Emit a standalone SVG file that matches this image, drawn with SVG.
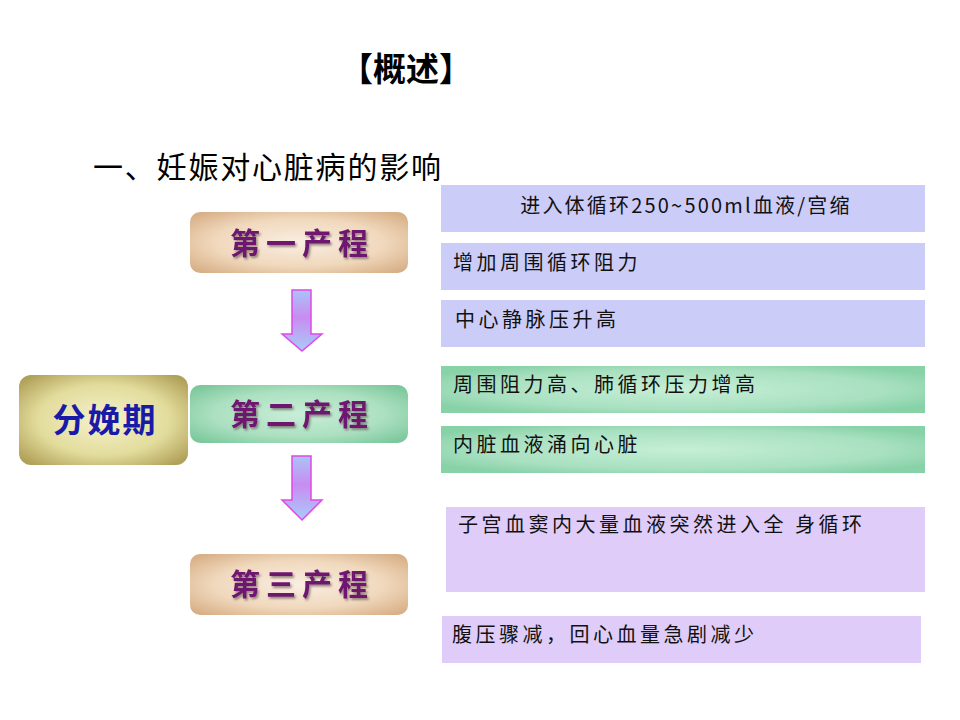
<svg xmlns="http://www.w3.org/2000/svg" width="960" height="720" viewBox="0 0 960 720">
<defs>
<radialGradient id="gTan" cx="50%" cy="50%" r="65%">
<stop offset="0" stop-color="#faeee2"/><stop offset="0.6" stop-color="#f0d8bc"/><stop offset="1" stop-color="#d8b088"/>
</radialGradient>
<radialGradient id="gGreen" cx="50%" cy="50%" r="65%">
<stop offset="0" stop-color="#c8eed8"/><stop offset="0.6" stop-color="#ace0c0"/><stop offset="1" stop-color="#7cc89c"/>
</radialGradient>
<radialGradient id="gOlive" cx="50%" cy="50%" r="65%">
<stop offset="0" stop-color="#f6f2cc"/><stop offset="0.6" stop-color="#e2dc9c"/><stop offset="1" stop-color="#b0a058"/>
</radialGradient>
<radialGradient id="gGreenBar" cx="50%" cy="50%" r="60%">
<stop offset="0" stop-color="#c6efd6"/><stop offset="0.7" stop-color="#a8e0c0"/><stop offset="1" stop-color="#88d2a8"/>
</radialGradient>
<linearGradient id="gArrow" x1="0" y1="0" x2="0" y2="1">
<stop offset="0" stop-color="#a8c4f8"/><stop offset="0.45" stop-color="#c88cf0"/><stop offset="1" stop-color="#a8ccf8"/>
</linearGradient>
<filter id="shadow" x="-10%" y="-10%" width="120%" height="130%">
<feDropShadow dx="1.5" dy="2" stdDeviation="0.8" flood-color="#5a4a4a" flood-opacity="0.6"/>
</filter>
</defs>
<style>
.cjk{font-family:"Noto Sans CJK SC","Noto Sans CJK JP",sans-serif;}
.stage{font-size:30px;font-weight:bold;fill:#6e1470;letter-spacing:6px;text-anchor:middle;}
.bar{font-size:20px;fill:#111;letter-spacing:3.5px;}
.arrow{fill:url(#gArrow);stroke:#e048e8;stroke-width:1.5;}
</style>

<text id="title" class="cjk" x="406" y="81" font-size="33" font-weight="bold" text-anchor="middle" fill="#000">【概述】</text>
<text id="subtitle" class="cjk" x="93" y="178" font-size="30" letter-spacing="1.8" fill="#000">一、妊娠对心脏病的影响</text>

<g id="stage1">
<rect x="190" y="212" width="218" height="61" rx="10" fill="url(#gTan)"/>
<text class="cjk stage" x="302" y="254" filter="url(#shadow)">第一产程</text>
</g>
<g id="delivery">
<rect x="19" y="375" width="169" height="90" rx="12" fill="url(#gOlive)"/>
<text class="cjk" x="105" y="432" font-size="33" font-weight="bold" fill="#1a1aa8" letter-spacing="2" text-anchor="middle">分娩期</text>
</g>
<g id="stage2">
<rect x="190" y="385" width="218" height="58" rx="10" fill="url(#gGreen)"/>
<text class="cjk stage" x="302" y="425" filter="url(#shadow)">第二产程</text>
</g>
<g id="stage3">
<rect x="190" y="554" width="218" height="61" rx="10" fill="url(#gTan)"/>
<text class="cjk stage" x="302" y="595" filter="url(#shadow)">第三产程</text>
</g>

<g id="connectors">
<path class="arrow" d="M292,290 H311 V334 H322 L302,351 L282,334 H292 Z"/>
<path class="arrow" d="M292,456 H311 V500 H322 L302,520 L282,500 H292 Z"/>
</g>

<g id="bar1">
<rect x="441" y="185" width="484" height="47" fill="#ccccf8"/>
<text class="cjk bar" x="686" y="213" text-anchor="middle" style="letter-spacing:2.2px">进入体循环250~500ml血液/宫缩</text>
</g>
<g id="bar2">
<rect x="441" y="243" width="484" height="47" fill="#ccccf8"/>
<text class="cjk bar" x="453" y="270">增加周围循环阻力</text>
</g>
<g id="bar3">
<rect x="441" y="300" width="484" height="47" fill="#ccccf8"/>
<text class="cjk bar" x="455" y="327">中心静脉压升高</text>
</g>
<g id="bar4">
<rect x="441" y="366" width="484" height="47" fill="url(#gGreenBar)"/>
<text class="cjk bar" x="453" y="392">周围阻力高、肺循环压力增高</text>
</g>
<g id="bar5">
<rect x="441" y="426" width="484" height="47" fill="url(#gGreenBar)"/>
<text class="cjk bar" x="453" y="452">内脏血液涌向心脏</text>
</g>
<g id="bar6">
<rect x="446" y="507" width="479" height="85" fill="#e0ccf8"/>
<text class="cjk bar" x="458" y="532">子宫血窦内大量血液突然进入全 身循环</text>
</g>
<g id="bar7">
<rect x="442" y="616" width="479" height="47" fill="#e0ccf8"/>
<text class="cjk bar" x="452" y="642">腹压骤减，回心血量急剧减少</text>
</g>
</svg>
